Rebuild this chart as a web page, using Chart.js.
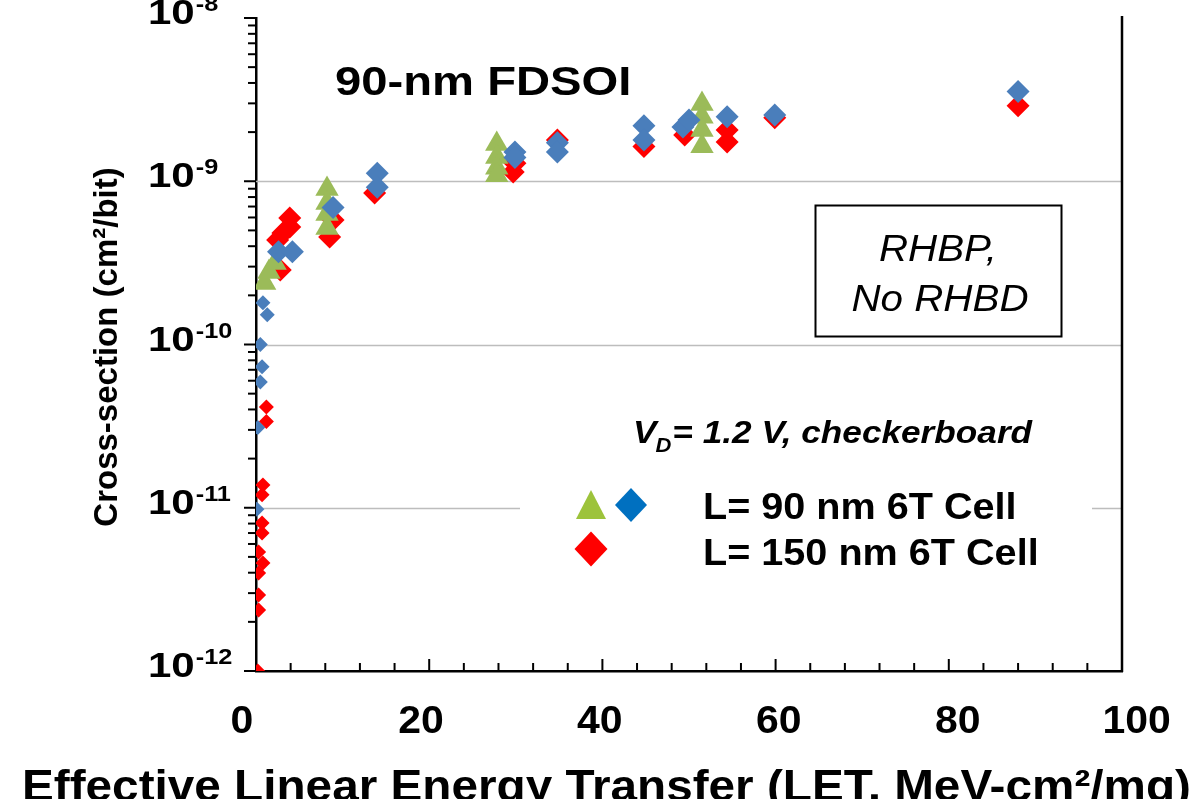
<!DOCTYPE html>
<html><head><meta charset="utf-8">
<script src="https://cdn.jsdelivr.net/npm/chart.js@4.4.0/dist/chart.umd.min.js"></script>
<style>html,body{margin:0;padding:0;background:#fff;overflow:hidden}canvas{display:block}</style>
</head><body>
<canvas id="c" width="1194" height="799" style="width:1194px;height:799px"></canvas>
<script>
// ---------- data ----------
const xTickValues = [0, 20, 40, 60, 80, 100];
const xMinorStep = 4;
const yDecadeExps = [-12, -11, -10, -9, -8];
const gridDecades = [1e-11, 1e-10, 1e-9];

// L = 90 nm 6T cell, triangles
const tri90LET = [1.0, 1.5, 2.2, 8.2, 8.2, 8.2, 8.2, 27.8, 27.8, 27.8, 27.8, 51.5, 51.5, 51.5, 51.5];
const tri90Sigma = [2.38e-10, 2.78e-10, 3.16e-10, 8.96e-10, 7.36e-10, 6.3e-10, 5.17e-10, 1.69e-9, 1.41e-9, 1.21e-9, 1.09e-9, 2.97e-9, 2.48e-9, 2.06e-9, 1.64e-9];

// L = 90 nm 6T cell, diamonds
const dia90LET = [0.1, 0.2, 0.5, 0.5, 0.7, 0.8, 1.3, 2.6, 4.2, 8.9, 14.0, 14.0, 29.9, 29.9, 34.8, 34.8, 44.8, 44.8, 49.3, 50.0, 54.4, 59.9, 88.0];
const dia90Sigma = [9.8e-12, 3.1e-11, 1.0e-10, 5.9e-11, 7.3e-11, 1.8e-10, 1.52e-10, 3.7e-10, 3.7e-10, 6.9e-10, 1.12e-9, 9.2e-10, 1.51e-9, 1.4e-9, 1.72e-9, 1.51e-9, 2.19e-9, 1.79e-9, 2.15e-9, 2.37e-9, 2.48e-9, 2.55e-9, 3.55e-9];

// L = 150 nm 6T cell, diamonds
const dia150LET = [0.2, 0.3, 0.3, 0.3, 0.8, 0.3, 0.7, 0.7, 0.7, 0.8, 1.2, 1.2, 2.8, 2.5, 3.1, 3.9, 3.9, 8.5, 8.9, 13.7, 29.9, 29.7, 34.8, 44.8, 49.5, 54.4, 54.4, 59.9, 88.0];
const dia150Sigma = [1.0e-12, 2.36e-12, 2.92e-12, 3.98e-12, 4.59e-12, 5.36e-12, 7.0e-12, 8.07e-12, 1.2e-11, 1.38e-11, 4.14e-11, 3.37e-11, 2.86e-10, 4.37e-10, 4.82e-10, 5.24e-10, 5.96e-10, 4.56e-10, 5.79e-10, 8.47e-10, 1.29e-9, 1.14e-9, 1.79e-9, 1.63e-9, 1.92e-9, 2.06e-9, 1.74e-9, 2.45e-9, 2.9e-9];

const titleText = '90-nm FDSOI';
const boxLines = ['RHBP,', 'No RHBD'];
const condText = ['V', 'D', '= 1.2 V, checkerboard'];
const legendLabels = ['L= 90 nm 6T Cell', 'L= 150 nm 6T Cell'];
const yTitle = 'Cross-section (cm\u00B2/bit)';
const xTitle = 'Effective Linear Energy Transfer (LET, MeV-cm\u00B2/mg)';

// ---------- helpers ----------
const FF = '"Liberation Sans", Arial, Helvetica, sans-serif';
const zip = (xs, ys) => xs.map((v, i) => ({x: v, y: ys[i]}));
function txt(ctx, s, x, y, font, o = {}) {
  ctx.save();
  ctx.font = font; ctx.fillStyle = o.color || '#000';
  ctx.textAlign = o.align || 'left'; ctx.textBaseline = o.baseline || 'alphabetic';
  ctx.translate(x, y); if (o.rot) ctx.rotate(o.rot); ctx.scale(o.sx || 1, 1);
  ctx.fillText(s, 0, 0);
  const w = ctx.measureText(s).width * (o.sx || 1);
  ctx.restore();
  return w;
}
function diamond(ctx, cx, cy, hw, hh, color) {
  ctx.beginPath(); ctx.moveTo(cx, cy - hh); ctx.lineTo(cx + hw, cy); ctx.lineTo(cx, cy + hh); ctx.lineTo(cx - hw, cy); ctx.closePath();
  ctx.fillStyle = color; ctx.fill();
}
function triangle(ctx, cx, top, bottom, hw, color) {
  ctx.beginPath(); ctx.moveTo(cx, top); ctx.lineTo(cx + hw, bottom); ctx.lineTo(cx - hw, bottom); ctx.closePath();
  ctx.fillStyle = color; ctx.fill();
}
const diaRadius = c => (c.raw && c.raw.x < 2 ? 7.5 : 11.5);

const decor = {
  id: 'decor',
  beforeDatasetsDraw(chart) {
    const {ctx, chartArea: a, scales: {x, y}} = chart;
    ctx.save();
    // gridlines
    ctx.strokeStyle = '#BDBDBD'; ctx.lineWidth = 1.6;
    gridDecades.forEach(v => {
      const py = Math.round(y.getPixelForValue(v)) + 0.5;
      ctx.beginPath(); ctx.moveTo(a.left, py); ctx.lineTo(a.right, py); ctx.stroke();
    });
    // right frame line
    ctx.strokeStyle = '#000'; ctx.lineWidth = 2.5;
    ctx.beginPath(); ctx.moveTo(a.right, a.top - 2); ctx.lineTo(a.right, a.bottom + 1); ctx.stroke();
    // y ticks (outside)
    ctx.lineWidth = 2;
    yDecadeExps.forEach((e, i) => {
      const py = y.getPixelForValue(Math.pow(10, e));
      ctx.beginPath(); ctx.moveTo(a.left, py); ctx.lineTo(a.left - 12, py); ctx.stroke();
      if (i < yDecadeExps.length - 1) {
        for (let m = 2; m <= 9; m++) {
          const pm = y.getPixelForValue(m * Math.pow(10, e));
          ctx.beginPath(); ctx.moveTo(a.left, pm); ctx.lineTo(a.left - 8, pm); ctx.stroke();
        }
      }
    });
    // x ticks (inside)
    for (let v = xMinorStep; v < 100; v += xMinorStep) {
      const px = x.getPixelForValue(v);
      const len = xTickValues.includes(v) ? 12 : 8;
      ctx.beginPath(); ctx.moveTo(px, a.bottom); ctx.lineTo(px, a.bottom - len); ctx.stroke();
    }
    ctx.restore();
  },
  afterDatasetsDraw(chart) {
    const {ctx, chartArea: a, scales: {x, y}} = chart;
    ctx.save();
    // y tick labels 10^n
    yDecadeExps.forEach(e => {
      const py = y.getPixelForValue(Math.pow(10, e));
      const w = txt(ctx, '10', 148, py + 6, `bold 35px ${FF}`, {sx: 1.2});
      txt(ctx, '-' + Math.abs(e), 148 + w + 1, py - 7, `bold 22px ${FF}`, {sx: 1.15});
    });
    // x tick labels
    xTickValues.forEach(v => {
      const px = x.getPixelForValue(v);
      const lx = a.left - 14 + (px - a.left) * 1.033;
      txt(ctx, String(v), lx, 733, `bold 39px ${FF}`, {align: 'center', sx: 1.05});
    });
    // title
    txt(ctx, titleText, 335, 95, `bold 40px ${FF}`, {sx: 1.18});
    // RHBP box
    ctx.fillStyle = '#fff'; ctx.fillRect(815, 205, 246, 131);
    ctx.strokeStyle = '#000'; ctx.lineWidth = 2; ctx.strokeRect(815.5, 205.5, 246, 131);
    txt(ctx, boxLines[0], 938, 261, `italic 36px ${FF}`, {align: 'center', sx: 1.12});
    txt(ctx, boxLines[1], 940, 311, `italic 36px ${FF}`, {align: 'center', sx: 1.12});
    // legend area
    ctx.fillStyle = '#fff'; ctx.fillRect(520, 395, 572, 195);
    let cx = 633;
    cx += txt(ctx, condText[0], cx, 443, `bold italic 32px ${FF}`, {sx: 1.1});
    cx += txt(ctx, condText[1], cx - 1, 452, `bold italic 20px ${FF}`, {sx: 1.1});
    txt(ctx, condText[2], cx, 443, `bold italic 32px ${FF}`, {sx: 1.1});
    triangle(ctx, 591, 490, 519, 15, '#9DC33B');
    diamond(ctx, 631, 505, 16, 17, '#0070C0');
    diamond(ctx, 591, 549, 16.5, 17.5, '#FF0000');
    txt(ctx, legendLabels[0], 703, 519, `bold 36px ${FF}`, {sx: 1.1});
    txt(ctx, legendLabels[1], 703, 565, `bold 36px ${FF}`, {sx: 1.1});
    // axis titles
    txt(ctx, yTitle, 108, 347, `bold 33px ${FF}`, {align: 'center', baseline: 'middle', rot: -Math.PI / 2});
    txt(ctx, xTitle, 22, 801, `bold 45px ${FF}`, {sx: 1.06});
    ctx.restore();
  }
};

new Chart(document.getElementById('c'), {
  type: 'scatter',
  data: {
    datasets: [
      {label: 'L= 90 nm (diamond)', data: zip(dia90LET, dia90Sigma), pointStyle: 'rectRot', backgroundColor: '#4A7EBB', borderWidth: 0, pointRadius: diaRadius, pointHoverRadius: diaRadius},
      {label: 'L= 90 nm (triangle)', data: zip(tri90LET, tri90Sigma), pointStyle: 'triangle', backgroundColor: '#9BBB59', borderWidth: 0, pointRadius: 13.5, pointHoverRadius: 13.5},
      {label: 'L= 150 nm', data: zip(dia150LET, dia150Sigma), pointStyle: 'rectRot', backgroundColor: '#FF0000', borderWidth: 0, pointRadius: diaRadius, pointHoverRadius: diaRadius}
    ]
  },
  options: {
    responsive: false, animation: false, events: [],
    layout: {padding: {left: 256, right: 72, top: 18, bottom: 128}},
    plugins: {legend: {display: false}, tooltip: {enabled: false}},
    scales: {
      x: {type: 'linear', min: 0, max: 100,
          grid: {display: false, drawTicks: false}, ticks: {display: false},
          border: {display: true, color: '#000', width: 2.5}},
      y: {type: 'logarithmic', min: 1e-12, max: 1e-8,
          grid: {display: false, drawTicks: false}, ticks: {display: false},
          border: {display: true, color: '#000', width: 2.5}}
    }
  },
  plugins: [decor]
});
</script>
</body></html>
